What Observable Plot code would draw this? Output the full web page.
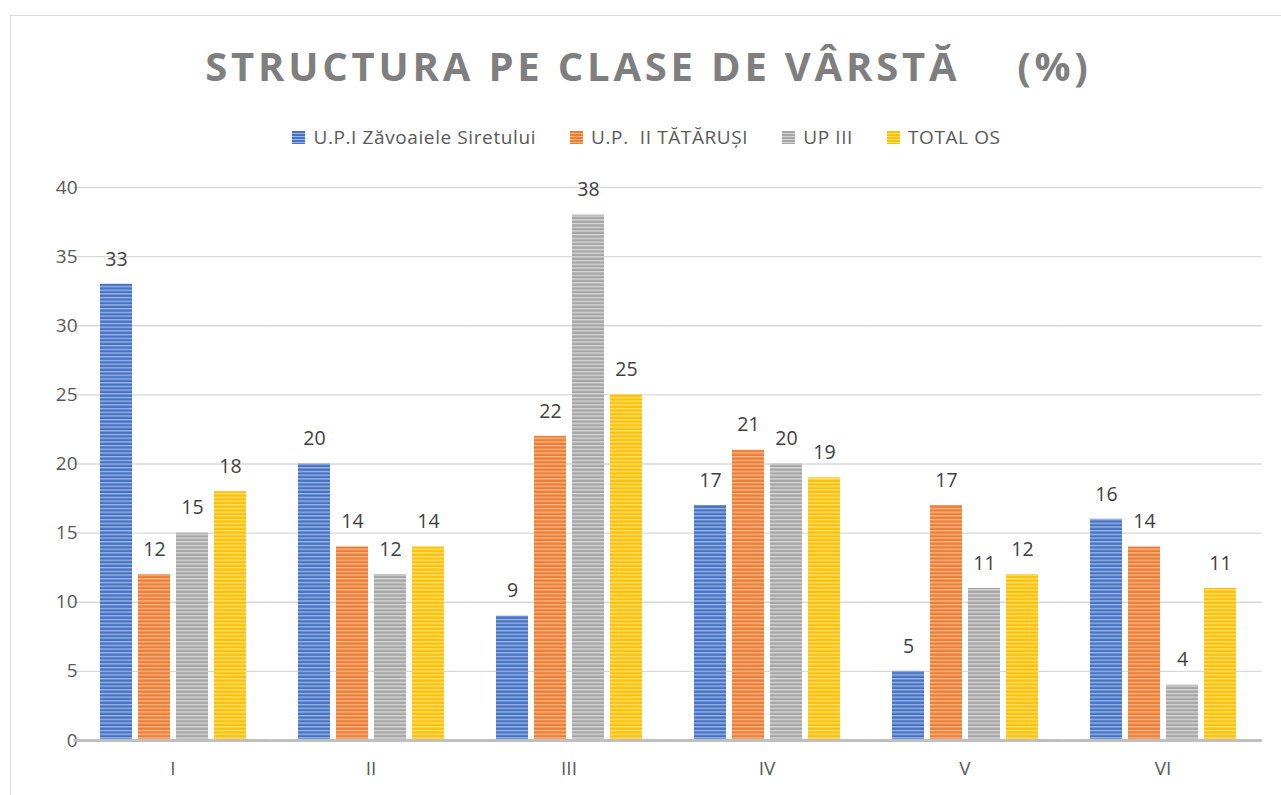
<!DOCTYPE html>
<html>
<head>
<meta charset="utf-8">
<script src="https://cdn.jsdelivr.net/npm/d3@7"></script>
<script src="https://cdn.jsdelivr.net/npm/@observablehq/plot@0.6"></script>
<style>
  body { margin: 0; background: #fff; font-family: "Open Sans", sans-serif; }
  #wrap { position: relative; width: 1281px; height: 795px; overflow: hidden; }
  #frame { position: absolute; left: 10px; top: 15px; width: 1400px; height: 900px; border: 1px solid #D9D9D9; box-sizing: border-box; }
  #header { position: relative; height: 160px; }
  #title { position: absolute; top: 38px; left: 8px; width: 1281px; text-align: center; font-family: "Open Sans", sans-serif; font-weight: 700; font-size: 40px; letter-spacing: 3.8px; color: #7F7F7F; white-space: pre; }
  #legend { position: absolute; top: 124px; left: 6px; width: 1281px; display: flex; justify-content: center; gap: 34px; font-size: 19px; letter-spacing: 0.6px; color: #595959; }
  .item { display: flex; align-items: center; gap: 8px; white-space: pre; }
  .sw { width: 13px; height: 13px; display: inline-block; }
  #chart { position: relative; }
</style>
</head>
<body>
<div id="wrap">
  <div id="frame"></div>
  <div id="header">
    <div id="title"></div>
    <div id="legend"></div>
  </div>
  <div id="chart"></div>
</div>
<script>
const titleText = "STRUCTURA PE CLASE DE VÂRSTĂ    (%)";
const classes = ["I", "II", "III", "IV", "V", "VI"];
const seriesNames = ["U.P.I Zăvoaiele Siretului", "U.P.  II TĂTĂRUȘI", "UP III", "TOTAL OS"];
const upI = [33, 20, 9, 17, 5, 16];
const upII = [12, 14, 22, 21, 17, 14];
const upIII = [15, 12, 38, 20, 11, 4];
const totalOS = [18, 14, 25, 19, 12, 11];
const yTicks = [0, 5, 10, 15, 20, 25, 30, 35, 40];
const darkColors = ["#4472C4", "#ED7D31", "#A5A5A5", "#FFC000"];
const lightColors = ["#9DB5E3", "#F6B58C", "#D6D6D6", "#FFE07A"];

const seriesValues = [upI, upII, upIII, totalOS];
const data = [];
classes.forEach((c, i) => {
  seriesNames.forEach((s, j) => data.push({cls: c, series: s, value: seriesValues[j][i]}));
});
const patUrls = seriesNames.map((s, j) => `url(#stripe${j})`);

document.getElementById("title").textContent = titleText;
const legend = document.getElementById("legend");
seriesNames.forEach((s, j) => {
  const it = document.createElement("div");
  it.className = "item";
  const sw = document.createElement("span");
  sw.className = "sw";
  sw.style.background = `repeating-linear-gradient(to bottom, ${darkColors[j]} 0 2px, ${lightColors[j]} 2px 3px)`;
  const tx = document.createElement("span");
  tx.textContent = s;
  it.appendChild(sw); it.appendChild(tx);
  legend.appendChild(it);
});

const W = 1281, ML = 73, MR = 20;
const fxPadInner = 0.26, fxPadOuter = 0.13;
// half of the gap between facets, so grid rules join up across facets
const halfGap = ((W - ML - MR) / classes.length) * fxPadOuter;

const plot = Plot.plot({
  width: W,
  height: 635,
  marginTop: 27,
  marginBottom: 55,
  marginLeft: ML,
  marginRight: MR,
  style: {fontFamily: "'Open Sans', sans-serif", fontSize: "19px", color: "#595959", background: "transparent"},
  fx: {domain: classes, paddingInner: fxPadInner, paddingOuter: fxPadOuter, label: null, axis: null},
  x: {domain: seriesNames, paddingInner: 0.17, paddingOuter: 0, axis: null},
  y: {domain: [0, 40], ticks: yTicks, label: null, axis: null},
  color: {domain: seriesNames, range: patUrls},
  marks: [
    Plot.ruleY(yTicks.filter(d => d > 0), {stroke: "#D9D9D9", strokeWidth: 1.3, insetLeft: -halfGap, insetRight: -halfGap}),
    Plot.axisY({ticks: yTicks, tickSize: 0, tickPadding: 22, fontSize: 19, fill: "#595959", anchor: "left", label: null}),
    Plot.axisFx({anchor: "bottom", tickSize: 0, tickPadding: 21, fontSize: 19, fill: "#595959", label: null}),
    Plot.barY(data, {fx: "cls", x: "series", y: "value", fill: "series"}),
    Plot.text(data, {fx: "cls", x: "series", y: "value", text: d => String(d.value), dy: -25, fontSize: 19.5, fill: "#404040"}),
    Plot.ruleY([0], {stroke: "#BFBFBF", strokeWidth: 3, insetLeft: -halfGap, insetRight: -halfGap})
  ]
});

const svg = d3.select(plot);
const defs = svg.insert("defs", ":first-child");
darkColors.forEach((c, j) => {
  const p = defs.append("pattern").attr("id", `stripe${j}`).attr("patternUnits", "userSpaceOnUse")
    .attr("width", 8).attr("height", 3.7);
  p.append("rect").attr("width", 8).attr("height", 3.7).attr("fill", c);
  p.append("rect").attr("y", 0).attr("width", 8).attr("height", 1.4).attr("fill", lightColors[j]);
});
document.getElementById("chart").appendChild(plot);
</script>
</body>
</html>
